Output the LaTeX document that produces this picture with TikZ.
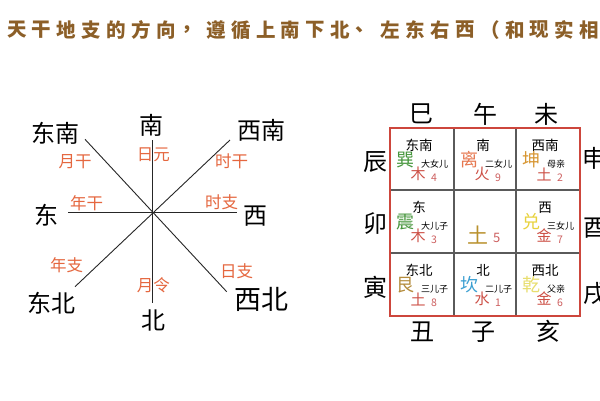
\documentclass[tikz,border=0pt]{standalone}
\usepackage{fontspec}
\newfontfamily\cjk{Noto Sans CJK SC}
\newcommand\myfs[1]{\fontsize{#1}{#1}\selectfont}
\definecolor{titlebrown}{RGB}{140,95,40}
\definecolor{lblorange}{RGB}{229,103,63}
\definecolor{gridred}{RGB}{205,70,60}
\definecolor{gridgray}{RGB}{90,90,90}
\definecolor{tgreen}{RGB}{70,150,60}
\definecolor{tsalmon}{RGB}{230,120,80}
\definecolor{tgold}{RGB}{215,150,50}
\definecolor{tyellow}{RGB}{232,210,60}
\definecolor{tolive}{RGB}{180,140,60}
\definecolor{tblue}{RGB}{60,160,210}
\definecolor{tpale}{RGB}{232,222,110}
\definecolor{elemred}{RGB}{205,80,70}
\definecolor{numred}{RGB}{205,95,95}
\definecolor{earthgold}{RGB}{185,145,45}
\newcommand\gridcell[9]{%
  \node[dirlbl] (#1d) at (#2+29,#3+17.5) {#4};
  \node[trig, text=#6] (#1t) at (#2+15,#3+32) {#5};
  \node[elem] (#1e) at (#2+28,#3+46) {#7};
  \node[fam, anchor=west] (#1f) at (#2+31,#3+36) {#8};
  \node[num] (#1n) at (#2+44,#3+49.5) {#9};
}
\begin{document}
\begin{tikzpicture}[x=1pt,y=-1pt,
  every node/.style={inner sep=0pt, outer sep=0pt},
  titletxt/.style={font=\cjk\bfseries\myfs{19.5}, text=titlebrown},
  dirbig/.style={font=\cjk\myfs{24}, text=black},
  dirhuge/.style={font=\cjk\myfs{27}, text=black},
  pillar/.style={font=\cjk\myfs{16.5}, text=lblorange},
  axis/.style={draw=black!85, line width=0.9pt},
  branch/.style={font=\cjk\myfs{24}, text=black},
  dirlbl/.style={font=\cjk\myfs{13.5}, text=black},
  trig/.style={font=\cjk\myfs{18}},
  elem/.style={font=\cjk\myfs{15}, text=elemred},
  fam/.style={font=\cjk\myfs{9}, text=black},
  num/.style={font=\cjk\myfs{10.5}, text=numred},
  outerframe/.style={draw=gridred, line width=1.8pt},
  innerline/.style={draw=gridgray, line width=1.1pt}]
\useasboundingbox (0,0) rectangle (600,400);
\fill[white] (0,0) rectangle (600,400);
% title
\foreach \ch [count=\i from 0] in {天,干,地,支,的,方,向,，,遵,循,上,南,下,北,、,左,东,右,西,（,和,现,实,相}
  \node[titletxt, anchor=west] (t\i) at ({7+\i*24.9},30) {\ch};
% left compass
\coordinate (c) at (152.7,212.7);
\coordinate (vN) at (152.7,140);
\coordinate (vS) at (152.7,303);
\coordinate (hW) at (68,212.7);
\coordinate (hE) at (237,212.7);
\coordinate (dNW) at (85,139.3);
\coordinate (dSE) at (226.7,291.7);
\coordinate (dNE) at (230,140);
\coordinate (dSW) at (75,286.7);
\draw[axis] (vN) -- (vS);
\draw[axis] (hW) -- (hE);
\draw[axis] (dNW) -- (dSE);
\draw[axis] (dNE) -- (dSW);
\node[dirbig] (nS) at (151.7,125) {南};
\node[dirbig] (nSE) at (55,133) {东南};
\node[dirbig] (nSW) at (261.7,130) {西南};
\node[dirbig] (nE) at (46.7,215) {东};
\node[dirbig] (nW) at (255,216) {西};
\node[dirbig] (nNE) at (51.7,303) {东北};
\node[dirbig] (nN) at (153.3,320) {北};
\node[dirhuge] (nNW) at (261.7,299) {西北};
\node[pillar] (p1) at (75,161.7) {月干};
\node[pillar] (p2) at (153.3,155) {日元};
\node[pillar] (p3) at (231.7,161.7) {时干};
\node[pillar] (p4) at (86.7,202.7) {年干};
\node[pillar] (p5) at (221.7,202.7) {时支};
\node[pillar] (p6) at (66.7,265) {年支};
\node[pillar] (p7) at (153.3,285) {月令};
\node[pillar] (p8) at (236.7,271.7) {日支};
% right grid
\draw[innerline] (454,128) -- (454,316);
\draw[innerline] (516,128) -- (516,316);
\draw[innerline] (390,190) -- (580,190);
\draw[innerline] (390,253) -- (580,253);
\draw[outerframe] (390,128) rectangle (580,316);
\gridcell{a}{390}{128}{东南}{巽}{tgreen}{木}{大女儿}{4}
\gridcell{b}{454}{128}{南}{离}{tsalmon}{火}{二女儿}{9}
\gridcell{cc}{516}{128}{西南}{坤}{tgold}{土}{母亲}{2}
\gridcell{d}{390}{190}{东}{震}{tgreen}{木}{大儿子}{3}
\gridcell{f}{516}{190}{西}{兑}{tyellow}{金}{三女儿}{7}
\gridcell{g}{390}{253}{东北}{艮}{tolive}{土}{三儿子}{8}
\gridcell{h}{454}{253}{北}{坎}{tblue}{水}{二儿子}{1}
\gridcell{i}{516}{253}{西北}{乾}{tpale}{金}{父亲}{6}
\node[font=\cjk\myfs{21}, text=earthgold] (ctr) at (478.3,235) {土};
\node[font=\cjk\myfs{13}, text=numred] (ctrn) at (496.7,237.5) {5};
% branches
\node[branch] (b1) at (421.7,114) {巳};
\node[branch] (b2) at (485,114) {午};
\node[branch] (b3) at (546.7,114) {未};
\node[branch] (b4) at (375.7,161.7) {辰};
\node[branch] (b5) at (375.7,224) {卯};
\node[branch] (b6) at (375.7,287) {寅};
\node[branch] (b7) at (594,158) {申};
\node[branch] (b8) at (595,228) {酉};
\node[branch] (b9) at (595,294) {戌};
\node[branch] (b10) at (422.7,331.7) {丑};
\node[branch] (b11) at (483.3,331.7) {子};
\node[branch] (b12) at (548.3,331.7) {亥};
\end{tikzpicture}
\end{document}
